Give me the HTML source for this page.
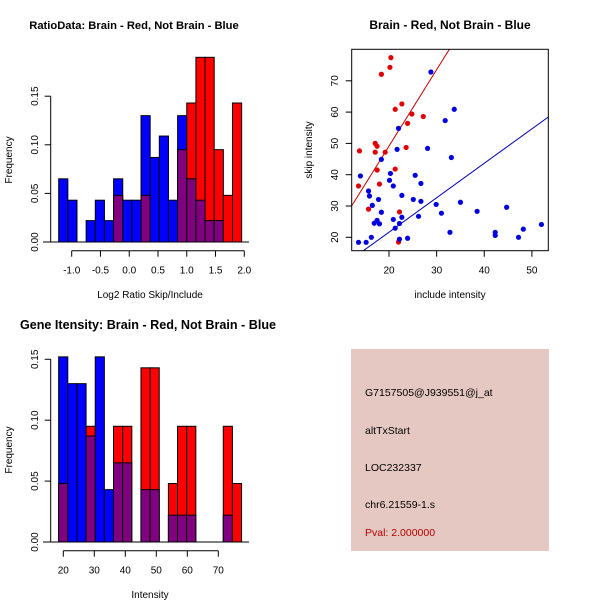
<!DOCTYPE html>
<html><head><meta charset="utf-8"><style>
body{margin:0;background:#fff}
svg{display:block;font-family:"Liberation Sans",sans-serif}
</style></head><body>
<svg id="c" width="600" height="600" viewBox="0 0 600 600">
<rect width="600" height="600" fill="#fff"/>
<text x="134" y="29" text-anchor="middle" font-size="11.2" font-weight="bold">RatioData: Brain - Red, Not Brain - Blue</text>
<text x="450" y="29" text-anchor="middle" font-size="12" font-weight="bold">Brain - Red, Not Brain - Blue</text>
<text x="148" y="329" text-anchor="middle" font-size="12.6" font-weight="bold">Gene Itensity: Brain - Red, Not Brain - Blue</text>
<text x="150" y="298" text-anchor="middle" font-size="10">Log2 Ratio Skip/Include</text>
<text transform="translate(12,160) rotate(-90)" text-anchor="middle" font-size="10">Frequency</text>
<text x="450" y="298" text-anchor="middle" font-size="10">include intensity</text>
<text transform="translate(312,150) rotate(-90)" text-anchor="middle" font-size="10">skip intensity</text>
<text x="150" y="598" text-anchor="middle" font-size="10">Intensity</text>
<text transform="translate(12,450) rotate(-90)" text-anchor="middle" font-size="10">Frequency</text>
<g>
<rect x="351" y="349" width="198" height="202" fill="#e6c8c2"/>
<text x="365" y="396" font-size="10.5">G7157505@J939551@j_at</text>
<text x="365" y="434" font-size="10.5">altTxStart</text>
<text x="365" y="471" font-size="10.5">LOC232337</text>
<text x="365" y="508" font-size="10.5">chr6.21559-1.s</text>
<text x="365" y="536" font-size="10.5" fill="#b00000">Pval: 2.000000</text>
</g>
<g id="h1"></g><g id="h2"></g><g id="sc"></g>
</svg>
<script>
// Ratio histogram data
const ratioBinStart = -1.226, ratioBinWidth = 0.159;
const ratioBlue = [0.065,0.043,0,0.022,0.043,0.022,0.065,0.043,0.043,0.13,0.087,0.109,0.043,0.13,0.065,0.043,0.022,0.022,0,0];
const ratioRed  = [0,0,0,0,0,0,0.048,0,0,0.048,0,0,0,0.095,0.143,0.19,0.19,0.095,0.048,0.143];
const ratioXTicks = [-1.0,-0.5,0.0,0.5,1.0,1.5,2.0];
const ratioXLabels = ["-1.0","-0.5","0.0","0.5","1.0","1.5","2.0"];
const freqTicks = [0,0.05,0.10,0.15];
const freqLabels = ["0.00","0.05","0.10","0.15"];
// Intensity histogram data
const intBinStart = 18.5, intBinWidth = 2.95;
const intBlue = [0.152,0.13,0.13,0.087,0.152,0.043,0.065,0.065,0,0.043,0.043,0,0.022,0.022,0.022,0,0,0,0.022,0];
const intRed  = [0.048,0,0,0.095,0,0,0.095,0.095,0,0.143,0.143,0,0.048,0.095,0.095,0,0,0,0.095,0.048];
const intXTicks = [20,30,40,50,60,70];
// Scatter data
const redX = [20.4,20.2,18.4,22.7,21.3,24.8,27.2,23.9,17.1,17.5,13.8,17.1,19.2,23.6,17.5,21.3,18.0,13.6,15.7,22.2,22.0];
const redY = [77.4,74.3,72.1,62.6,60.9,59.4,58.6,56.4,50.0,49.1,47.6,47.2,47.2,48.7,41.5,41.8,37.0,36.4,29.0,28.1,18.5];
const blueX = [28.8,33.7,31.8,22.0,21.7,28.1,18.4,33.1,14.0,20.3,20.1,25.5,26.7,20.9,15.7,15.9,17.8,22.7,25.1,26.7,16.5,29.9,35.0,31.0,38.5,44.7,18.4,26.2,20.9,22.7,22.2,16.9,17.5,18.0,21.3,16.3,22.2,23.9,13.6,15.2,32.8,42.3,42.3,47.2,48.2,52.0];
const blueY = [72.8,60.9,57.3,54.8,48.1,48.4,44.9,45.5,39.6,40.4,38.2,39.8,37.2,36.4,34.8,33.2,32.1,33.4,32.1,31.5,30.2,30.5,31.2,27.7,28.3,29.6,28.0,26.7,25.7,26.4,24.4,24.5,25.4,24.3,22.9,20.0,19.4,19.7,18.4,18.4,21.6,21.6,20.6,20.0,22.6,24.1];
const fitLines = [{intercept:0.35, slope:2.44, color:"#c00000"},{intercept:-0.36, slope:1.10, color:"#0000b0"}];
const scXTicks = [20,30,40,50];
const scYTicks = [20,30,40,50,60,70];

const NS = "http://www.w3.org/2000/svg";
function mk(parent, tag, attrs){const e=document.createElementNS(NS,tag);for(const k in attrs)e.setAttribute(k,attrs[k]);parent.appendChild(e);return e;}

function hist(g, binStart, binW, blue, red, xs, ys, xTicks, xLabels, axisY, prefix){
  for(let i=0;i<blue.length;i++){
    const x0=xs(binStart+i*binW), x1=xs(binStart+(i+1)*binW);
    const b=blue[i], r=red[i], lo=Math.min(b,r), hi=Math.max(b,r);
    if(hi<=0) continue;
    const topCol = b>=r ? "#0000ff" : "#ff0000";
    let e=mk(g,"rect",{x:x0,y:ys(hi),width:x1-x0,height:ys(0)-ys(hi),fill:topCol,stroke:"#000","stroke-width":1});
    
    
    if(lo>0){
      e=mk(g,"rect",{x:x0,y:ys(lo),width:x1-x0,height:ys(0)-ys(lo),fill:"#800080",stroke:"#000","stroke-width":1});
      
      
    }
  }
  let e=mk(g,"line",{x1:43,x2:249,y1:ys(0),y2:ys(0),stroke:"#000"});
  
  
  e=mk(g,"line",{x1:xs(xTicks[0]),x2:xs(xTicks[xTicks.length-1]),y1:axisY,y2:axisY,stroke:"#000"});
  
  
  xTicks.forEach((t,i)=>{
    mk(g,"line",{x1:xs(t),x2:xs(t),y1:axisY,y2:axisY+6,stroke:"#000"});
    const tx=mk(g,"text",{x:xs(t),y:axisY+23,"text-anchor":"middle","font-size":10});
    tx.textContent=xLabels[i];
    
    
  });
  e=mk(g,"line",{x1:50.7,x2:50.7,y1:ys(0),y2:ys(0.15),stroke:"#000"});
  
  
  freqTicks.forEach((t,i)=>{
    mk(g,"line",{x1:44.7,x2:50.7,y1:ys(t),y2:ys(t),stroke:"#000"});
    const tx=mk(g,"text",{transform:`translate(38,${ys(t)}) rotate(-90)`,"text-anchor":"middle","font-size":10});
    tx.textContent=freqLabels[i];
    
    
  });
}

const h1=document.getElementById("h1");


hist(h1, ratioBinStart, ratioBinWidth, ratioBlue, ratioRed,
  v=>71.7+(v+1)*57.53, v=>242-v*972, ratioXTicks, ratioXLabels, 250.7, 'ratio');

const h2=document.getElementById("h2");


hist(h2, intBinStart, intBinWidth, intBlue, intRed,
  v=>63.3+(v-20)*3.1, v=>542-v*1218, intXTicks, intXTicks.map(String), 550.7, 'intensity');

const sc=document.getElementById("sc");


const sx=v=>389+(v-20)*4.763, sy=v=>237.3-(v-20)*3.13;
const L=351.7,R=548.3,T=49.3,B=250.7;
const defs=mk(sc,"defs",{});const cp=mk(defs,"clipPath",{id:"clp"});mk(cp,"rect",{x:L,y:T,width:R-L,height:B-T});
const xmin=(L-389)/4.763+20, xmax=(R-389)/4.763+20;
fitLines.forEach((f,i)=>{
  const ln=mk(sc,"line",{x1:sx(xmin),y1:sy(f.intercept+f.slope*xmin),x2:sx(xmax),y2:sy(f.intercept+f.slope*xmax),stroke:f.color,"stroke-width":1,"clip-path":"url(#clp)"});
  
  
});
redX.forEach((x,i)=>{
  const c=mk(sc,"circle",{cx:sx(x),cy:sy(redY[i]),r:2.6,fill:"#e00000"});
  
  
});
blueX.forEach((x,i)=>{
  const c=mk(sc,"circle",{cx:sx(x),cy:sy(blueY[i]),r:2.6,fill:"#0000e0"});
  
  
});
let fr=mk(sc,"rect",{x:L,y:T,width:R-L,height:B-T,fill:"none",stroke:"#000"});


scXTicks.forEach(t=>{
  mk(sc,"line",{x1:sx(t),x2:sx(t),y1:B,y2:B+6,stroke:"#000"});
  const tx=mk(sc,"text",{x:sx(t),y:B+23,"text-anchor":"middle","font-size":10});
  tx.textContent=String(t);
  
  
});
scYTicks.forEach(t=>{
  mk(sc,"line",{x1:L-6,x2:L,y1:sy(t),y2:sy(t),stroke:"#000"});
  const tx=mk(sc,"text",{transform:`translate(338,${sy(t)}) rotate(-90)`,"text-anchor":"middle","font-size":10});
  tx.textContent=String(t);
  
  
});
</script>
</body></html>
